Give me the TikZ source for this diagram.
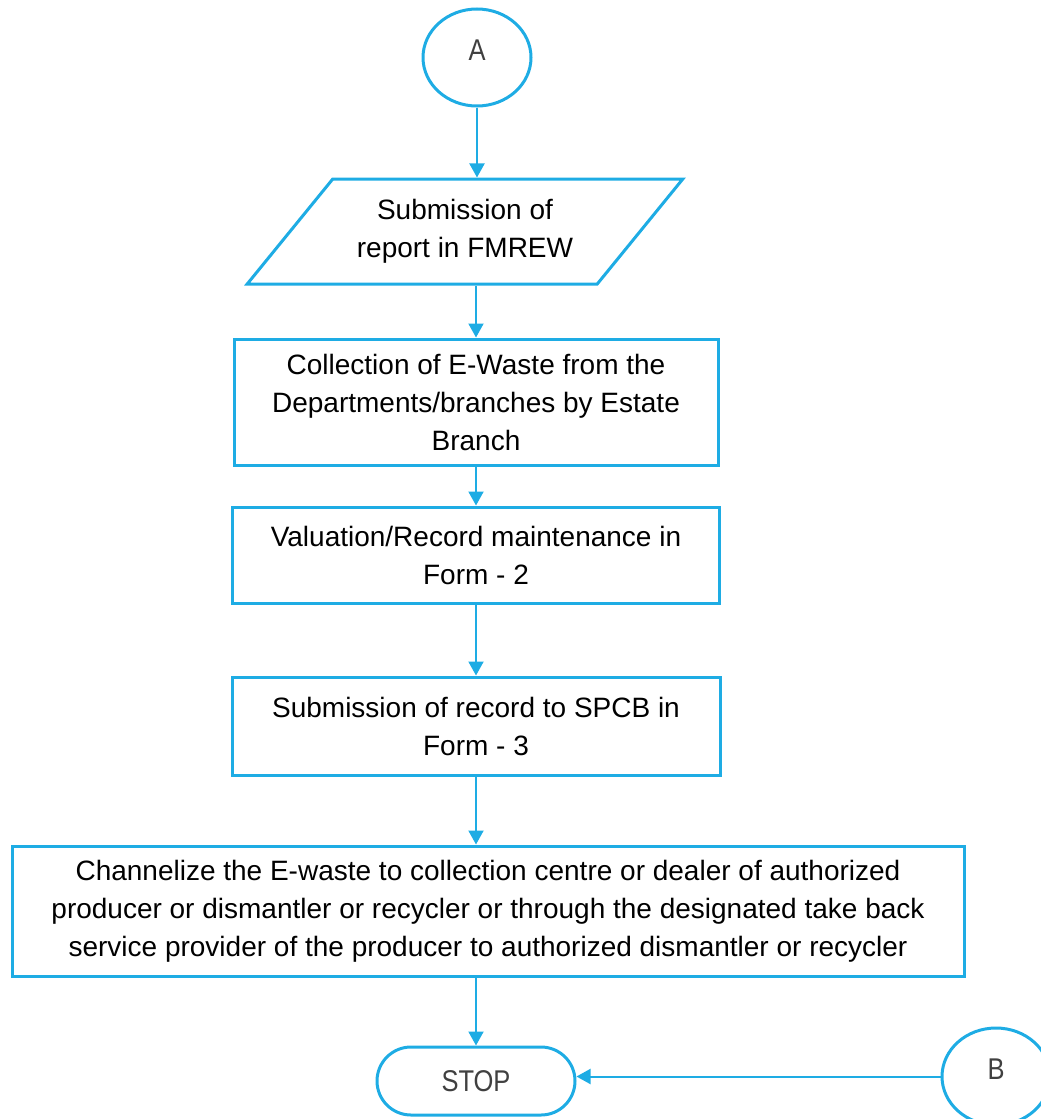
\documentclass[tikz,border=0pt]{standalone}
\usepackage{fontspec}
\setmainfont{Liberation Sans}
\newfontfamily\lblfont[FakeStretch=0.85]{Liberation Sans}
\usetikzlibrary{shapes.geometric,arrows.meta}
\definecolor{flowblue}{RGB}{30,172,228}
\definecolor{lblgrey}{RGB}{64,64,64}
\begin{document}
\begin{tikzpicture}[x=1pt,y=-1pt,
  boxtext/.style={font=\fontsize{28}{38}\selectfont, text=black, align=center},
  procbox/.style={draw=flowblue, line width=3pt, rectangle, inner sep=0pt, boxtext},
  iobox/.style={draw=flowblue, line width=3pt, trapezium, trapezium left angle=42.5, trapezium right angle=137.5, trapezium stretches=true, inner sep=0pt, boxtext},
  connector/.style={draw=flowblue, ellipse, line width=3pt, inner sep=0pt, minimum width=108pt, minimum height=97pt, font=\lblfont\fontsize{30}{34}\selectfont, text=lblgrey},
  terminal/.style={draw=flowblue, rectangle, rounded corners=34pt, line width=3pt, inner sep=0pt, minimum width=198pt, minimum height=68pt, font=\lblfont\fontsize{30}{34}\selectfont, text=lblgrey},
  conn/.style={draw=flowblue, line width=2pt, -{Triangle[width=15pt,length=14pt]}}
]
\useasboundingbox (0,0) rectangle (1041,1119);
\clip (0,0) rectangle (1041,1119);

\node[connector] (A) at (477,57.5) {\raisebox{14pt}{A}};
\node[iobox, minimum width=438pt, minimum height=105pt] (P) at (465,231.5) {Submission of\\report in FMREW};
\node[procbox, minimum width=484pt, minimum height=126pt] (C) at (476,402) {Collection of E-Waste from the\\Departments/branches by Estate\\Branch};
\node[procbox, minimum width=487pt, minimum height=96pt] (V) at (476,555) {Valuation/Record maintenance in\\Form - 2};
\node[procbox, minimum width=488pt, minimum height=98pt] (S) at (476,726) {Submission of record to SPCB in\\Form - 3};
\node[procbox, minimum width=952pt, minimum height=130pt] (Ch) at (488,911) {Channelize the E-waste to collection centre or dealer of authorized\\producer or dismantler or recycler or through the designated take back\\service provider of the producer to authorized dismantler or recycler};
\node[terminal] (STOP) at (476,1081) {STOP};
\node[connector] (B) at (996,1076.5) {\raisebox{14pt}{B}};

\draw[conn] (A.south) -- (A.south |- P.north);
\draw[conn] (C.north |- P.south) -- (C.north);
\draw[conn] (C.south) -- (V.north);
\draw[conn] (V.south) -- (S.north);
\draw[conn] (S.south) -- (S.south |- Ch.north);
\draw[conn] (STOP.north |- Ch.south) -- (STOP.north);
\draw[conn] (B.west) -- (B.west -| STOP.east);
\end{tikzpicture}
\end{document}
